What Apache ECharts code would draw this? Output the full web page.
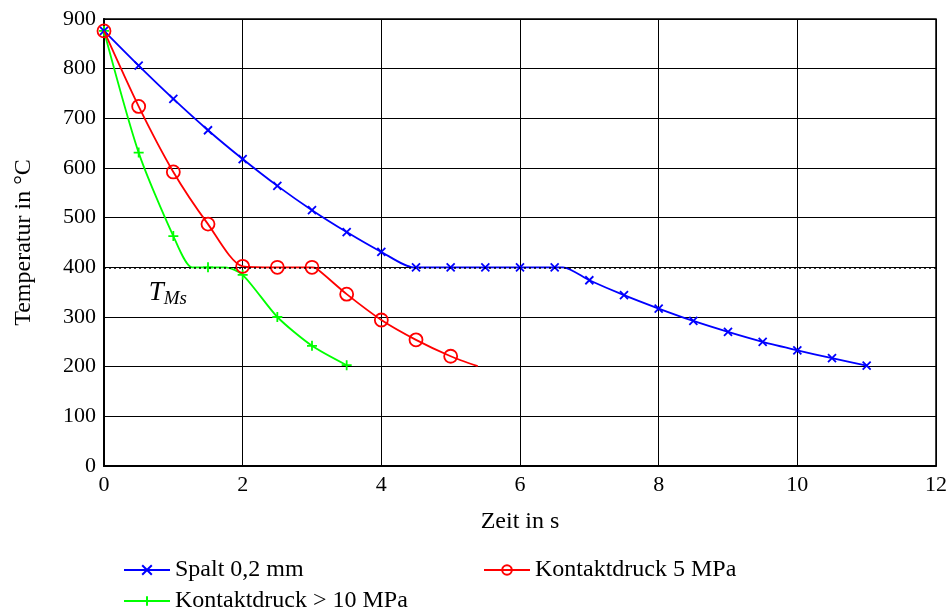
<!DOCTYPE html>
<html><head><meta charset="utf-8">
<script src="https://cdn.jsdelivr.net/npm/echarts@6/dist/echarts.min.js"></script>
<style>html,body{margin:0;padding:0;background:#fff}#c{width:952px;height:614px}</style>
</head><body><div id="c"></div>
<script>
// --- data ---
const spaltTime = [0, 0.5, 1, 1.5, 2, 2.5, 3, 3.5, 4, 4.46, 4.5, 5, 5.5, 6, 6.5, 6.62, 7, 7.5, 8, 8.5, 9, 9.5, 10, 10.5, 11];
const spaltTemp = [876, 806, 739, 676, 618, 564, 515, 471, 431, 400, 400, 400, 400, 400, 400, 400, 374, 344, 317, 292, 270, 250, 233, 217, 202];
const kd5Time = [0, 0.5, 1, 1.5, 2, 2.5, 3, 3.05, 3.5, 4, 4.5, 5, 5.39];
const kd5Temp = [876, 724, 592, 487, 402, 400, 400, 399, 346, 294, 254, 221, 201];
const kd10Time = [0, 0.5, 1, 1.27, 1.5, 1.75, 2, 2.5, 3, 3.5];
const kd10Temp = [876, 631, 463, 400, 400, 400, 385, 300, 242, 203];
const markerStep = 0.5;
const tMs = 400;
const xTicks = {min: 0, max: 12, interval: 2};
const yTicks = {min: 0, max: 900, interval: 100};
const seriesNames = ['Spalt 0,2 mm', 'Kontaktdruck 5 MPa', 'Kontaktdruck > 10 MPa'];
const tmsLabelPos = [0.92, 348];

function build(ts, vs) {
  return ts.map((t, i) => {
    const isMarker = Math.abs(t / markerStep - Math.round(t / markerStep)) < 1e-6;
    return isMarker ? {value: [t, vs[i]]} : {value: [t, vs[i]], symbol: 'none'};
  });
}

const font = 'Liberation Serif';
const chart = echarts.init(document.getElementById('c'), null, {renderer: 'canvas'});
chart.setOption({
  animation: false,
  backgroundColor: '#fff',
  grid: {left: 104, right: 16, top: 19, bottom: 148, show: true, borderColor: '#000', borderWidth: 1.5},
  xAxis: {
    type: 'value', min: xTicks.min, max: xTicks.max, interval: xTicks.interval,
    name: 'Zeit in s', nameLocation: 'middle', nameGap: 44,
    nameTextStyle: {fontFamily: font, fontSize: 24, color: '#000'},
    axisLine: {show: true, onZero: false, lineStyle: {color: '#000', width: 2}},
    axisTick: {show: true, inside: true, length: 4, lineStyle: {color: '#000'}},
    axisLabel: {fontFamily: font, fontSize: 22, color: '#000', margin: 8},
    splitLine: {show: true, lineStyle: {color: '#000', width: 1}}
  },
  yAxis: {
    type: 'value', min: yTicks.min, max: yTicks.max, interval: yTicks.interval,
    name: 'Temperatur in °C', nameLocation: 'middle', nameGap: 68,
    nameTextStyle: {fontFamily: font, fontSize: 24, color: '#000'},
    axisLine: {show: true, onZero: false, lineStyle: {color: '#000', width: 2}},
    axisTick: {show: true, inside: true, length: 4, lineStyle: {color: '#000'}},
    axisLabel: {fontFamily: font, fontSize: 22, color: '#000', margin: 8},
    splitLine: {show: true, lineStyle: {color: '#000', width: 1}}
  },
  legend: [
    {
      data: [seriesNames[0], seriesNames[2]], orient: 'vertical', left: 123, top: 558, height: 60,
      padding: 0, itemWidth: 46, itemHeight: 12, itemGap: 7,
      textStyle: {fontFamily: font, fontSize: 24, color: '#000'}
    },
    {
      data: [seriesNames[1]], orient: 'vertical', left: 483, top: 558, height: 60,
      padding: 0, itemWidth: 46, itemHeight: 12, itemGap: 7,
      textStyle: {fontFamily: font, fontSize: 24, color: '#000'}
    }
  ],
  series: [
    {
      name: seriesNames[0], type: 'line', data: build(spaltTime, spaltTemp),
      smooth: 0.25, color: '#0000ff',
      symbol: 'path://M0,0L10,10M10,0L0,10', symbolSize: 8,
      lineStyle: {color: '#0000ff', width: 1.8},
      itemStyle: {color: '#0000ff', borderColor: '#0000ff', borderWidth: 1.8},
      z: 3,
      markLine: {
        silent: true, symbol: 'none', label: {show: false},
        lineStyle: {color: '#000', type: [2, 3], width: 1.5},
        data: [{yAxis: tMs}]
      },
      markPoint: {
        silent: true, symbol: 'rect', symbolSize: 1,
        itemStyle: {color: 'rgba(0,0,0,0)'},
        data: [{coord: tmsLabelPos}],
        label: {
          show: true, position: 'inside', formatter: '{t|T}{s|Ms}',
          rich: {
            t: {fontFamily: font, fontStyle: 'italic', fontSize: 27, color: '#000'},
            s: {fontFamily: font, fontStyle: 'italic', fontSize: 19, color: '#000', verticalAlign: 'bottom', padding: [11, 0, 0, 0]}
          }
        }
      }
    },
    {
      name: seriesNames[1], type: 'line', data: build(kd5Time, kd5Temp),
      smooth: 0.25, color: '#ff0000',
      symbol: 'circle', symbolSize: 13,
      lineStyle: {color: '#ff0000', width: 1.8},
      itemStyle: {color: 'rgba(255,255,255,0)', borderColor: '#ff0000', borderWidth: 1.8},
      z: 4
    },
    {
      name: seriesNames[2], type: 'line', data: build(kd10Time, kd10Temp),
      smooth: 0.25, color: '#00ff00',
      symbol: 'path://M0,5L10,5M5,0L5,10', symbolSize: 10,
      lineStyle: {color: '#00ff00', width: 1.8},
      itemStyle: {color: '#00ff00', borderColor: '#00ff00', borderWidth: 1.8},
      z: 2
    }
  ]
});
</script>
</body></html>
